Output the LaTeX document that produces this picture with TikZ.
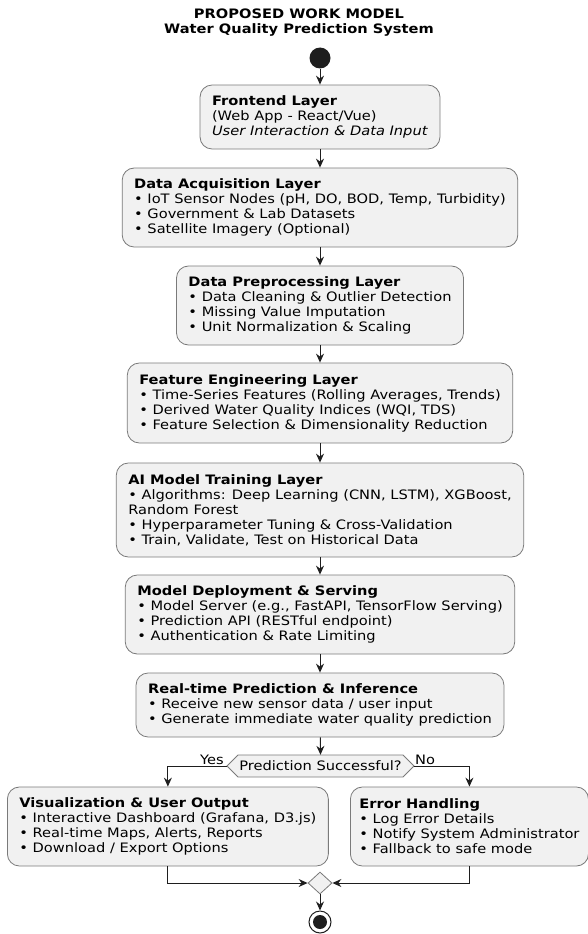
\documentclass[tikz,border=0pt]{standalone}
\usepackage{fontspec}
\setmainfont{DejaVu Sans}[FakeStretch=1.125, BoldFont={DejaVu Sans Bold}, ItalicFont={DejaVu Sans Oblique}, BoldItalicFont={DejaVu Sans Bold Oblique}]
\usetikzlibrary{arrows.meta, shapes.geometric}
\definecolor{boxfill}{HTML}{F1F1F1}
\definecolor{boxline}{HTML}{7A7A7A}
\definecolor{ink}{HTML}{1E1E1E}
\begin{document}
\begin{tikzpicture}[x=1pt, y=-1pt,
  every node/.style={font=\fontsize{13}{15}\selectfont, text=black},
  layer/.style={draw=boxline, fill=boxfill, rounded corners=12pt, line width=0.8pt, align=left, inner xsep=12pt, inner ysep=0pt},
  arr/.style={draw=ink, line width=1pt, -{Stealth[length=9pt, width=8pt, inset=3pt]}},
  decbox/.style={draw=boxline, fill=boxfill, line width=0.8pt}]
\useasboundingbox (0,0) rectangle (588,934);
\node[font=\bfseries\fontsize{13}{15}\selectfont, align=center] (title) at (299,22.5) {PROPOSED WORK MODEL\\Water Quality Prediction System};
\node[circle, fill=ink, minimum size=21pt, inner sep=0pt] (start) at (320,58) {};
\node[layer, minimum height=64pt] (fe) at (320,117) {\textbf{Frontend Layer}\\(Web App - React/Vue)\\\textit{User Interaction \& Data Input}};
\node[layer, minimum height=79pt] (acq) at (320,207.5) {\textbf{Data Acquisition Layer}\\• IoT Sensor Nodes (pH, DO, BOD, Temp, Turbidity)\\• Government \& Lab Datasets\\• Satellite Imagery (Optional)};
\node[layer, minimum height=79pt] (pre) at (320,305.5) {\textbf{Data Preprocessing Layer}\\• Data Cleaning \& Outlier Detection\\• Missing Value Imputation\\• Unit Normalization \& Scaling};
\node[layer, minimum height=80pt] (feat) at (320,403) {\textbf{Feature Engineering Layer}\\• Time-Series Features (Rolling Averages, Trends)\\• Derived Water Quality Indices (WQI, TDS)\\• Feature Selection \& Dimensionality Reduction};
\node[layer, minimum height=94pt] (ai) at (320,510) {\textbf{AI Model Training Layer}\\• Algorithms: Deep Learning (CNN, LSTM), XGBoost,\\Random Forest\\• Hyperparameter Tuning \& Cross-Validation\\• Train, Validate, Test on Historical Data};
\node[layer, minimum height=79pt] (dep) at (320,614.5) {\textbf{Model Deployment \& Serving}\\• Model Server (e.g., FastAPI, TensorFlow Serving)\\• Prediction API (RESTful endpoint)\\• Authentication \& Rate Limiting};
\node[layer, minimum height=64pt] (rt) at (320,705) {\textbf{Real-time Prediction \& Inference}\\• Receive new sensor data / user input\\• Generate immediate water quality prediction};
\draw[decbox] (227,766) -- (238,755) -- (403,755) -- (414,766) -- (403,777) -- (238,777) -- cycle;
\node[inner sep=0pt, minimum height=22pt, minimum width=187pt] (dec) at (320.5,766) {Prediction Successful?};
\node[anchor=base, inner sep=0pt] (yes) at (212,764) {Yes};
\node[anchor=base, inner sep=0pt] (no) at (425,764) {No};
\node[layer, minimum height=79pt, anchor=west] (viz) at (7,826.5) {\textbf{Visualization \& User Output}\\• Interactive Dashboard (Grafana, D3.js)\\• Real-time Maps, Alerts, Reports\\• Download / Export Options};
\node[layer, inner xsep=9pt, minimum height=79pt, anchor=west] (err) at (350,826.5) {\textbf{Error Handling}\\• Log Error Details\\• Notify System Administrator\\• Fallback to safe mode};
\node[diamond, decbox, minimum width=24pt, minimum height=22pt, inner sep=0pt] (merge) at (320,883) {};
\node[circle, draw=ink, line width=1pt, minimum size=22pt, inner sep=0pt] (end) at (320,922) {};
\node[circle, fill=ink, minimum size=14pt, inner sep=0pt] (endin) at (320,922) {};
\draw[arr] (start) -- (fe);
\draw[arr] (fe) -- (acq);
\draw[arr] (acq) -- (pre);
\draw[arr] (pre) -- (feat);
\draw[arr] (feat) -- (ai);
\draw[arr] (ai) -- (dep);
\draw[arr] (dep) -- (rt);
\draw[arr] (rt) -- (dec.north);
\draw[arr] (dec.west) -| (viz.north);
\draw[arr] (dec.east) -| (err.north);
\draw[arr] (viz.south) |- (merge.west);
\draw[arr] (err.south) |- (merge.east);
\draw[arr] (merge) -- (end);
\end{tikzpicture}
\end{document}
